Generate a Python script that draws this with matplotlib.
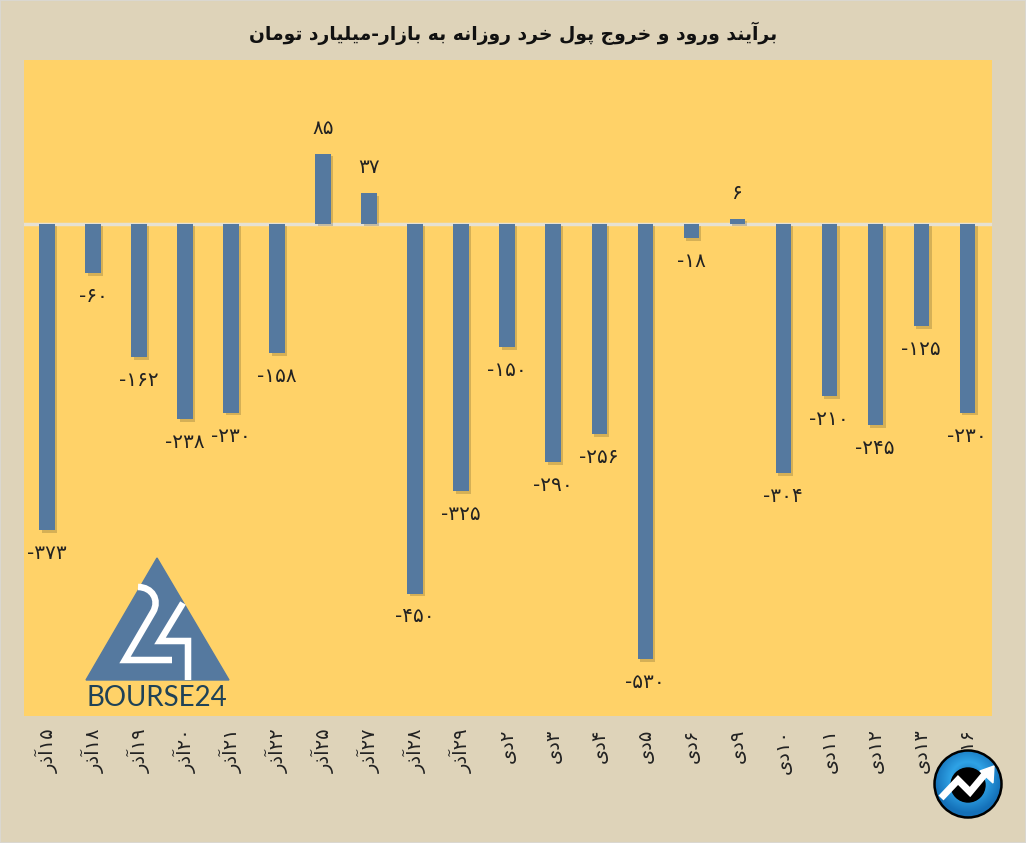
import matplotlib
matplotlib.use("Agg")
import matplotlib.pyplot as plt
import matplotlib.patheffects as pe
from matplotlib.patches import Polygon, Circle, Rectangle, PathPatch
from matplotlib.path import Path
import numpy as np

# datos de la grafica
valores = [-373, -60, -162, -238, -230, -158, 85, 37, -450, -325, -150,
           -290, -256, -530, -18, 6, -304, -210, -245, -125, -230]
fechas = ["۱۵آذر", "۱۸آذر", "۱۹آذر", "۲۰آذر", "۲۱آذر", "۲۲آذر", "۲۵آذر", "۲۷آذر",
          "۲۸آذر", "۲۹آذر", "۲دی", "۳دی", "۴دی", "۵دی", "۶دی", "۹دی",
          "۱۰دی", "۱۱دی", "۱۲دی", "۱۳دی", "۱۶دی"]
titulo = "برآیند ورود و خروج پول خرد روزانه به بازار-میلیارد تومان"

W, H = 1026, 843
FONDO = "#DED3B9"
AMARILLO = "#FFD268"
AZUL = "#55799F"

# formas de cada letra: aislada, final, inicial, media
FORMAS = {
    "ا": (0xFE8D, 0xFE8E), "آ": (0xFE81, 0xFE82), "د": (0xFEA9, 0xFEAA),
    "ذ": (0xFEAB, 0xFEAC), "ر": (0xFEAD, 0xFEAE), "ز": (0xFEAF, 0xFEB0),
    "و": (0xFEED, 0xFEEE),
    "ب": (0xFE8F, 0xFE90, 0xFE91, 0xFE92), "پ": (0xFB56, 0xFB57, 0xFB58, 0xFB59),
    "ت": (0xFE95, 0xFE96, 0xFE97, 0xFE98), "ج": (0xFE9D, 0xFE9E, 0xFE9F, 0xFEA0),
    "خ": (0xFEA5, 0xFEA6, 0xFEA7, 0xFEA8), "ل": (0xFEDD, 0xFEDE, 0xFEDF, 0xFEE0),
    "م": (0xFEE1, 0xFEE2, 0xFEE3, 0xFEE4), "ن": (0xFEE5, 0xFEE6, 0xFEE7, 0xFEE8),
    "ه": (0xFEE9, 0xFEEA, 0xFEEB, 0xFEEC), "ی": (0xFBFC, 0xFBFD, 0xFBFE, 0xFBFF),
}
DIGITOS = "۰۱۲۳۴۵۶۷۸۹"


# matplotlib no une las letras, se hace a mano y se invierte el orden
def persa(texto):
    salida = []
    for i, c in enumerate(texto):
        if c not in FORMAS:
            salida.append(c)
            continue
        ant = texto[i - 1] if i > 0 else " "
        sig = texto[i + 1] if i + 1 < len(texto) else " "
        une_ant = ant in FORMAS and len(FORMAS[ant]) == 4
        une_sig = sig in FORMAS and len(FORMAS[c]) == 4
        f = FORMAS[c]
        if une_ant and une_sig:
            salida.append(chr(f[3]))
        elif une_sig:
            salida.append(chr(f[2]))
        elif une_ant:
            salida.append(chr(f[1]))
        else:
            salida.append(chr(f[0]))
    return salida


def visual(texto):
    # los numeros se quedan de izquierda a derecha
    num = "".join(c for c in texto if c in DIGITOS)
    resto = "".join(c for c in texto if c not in DIGITOS)
    return "".join(persa(resto)[::-1]) + num


def numero(v):
    s = str(abs(v)).translate(str.maketrans("0123456789", DIGITOS))
    return "-" + s if v < 0 else s


fig = plt.figure(figsize=(W / 100, H / 100), dpi=100, facecolor=FONDO)
ax = fig.add_axes([24 / W, 1 - 716 / H, 968 / W, 656 / H], facecolor=AMARILLO)

x = np.arange(len(valores))
barras = ax.bar(x, valores, width=0.33, color=AZUL, zorder=3)
for b in barras:
    b.set_path_effects([pe.SimplePatchShadow(offset=(2, -2), shadow_rgbFace="#6b5a2a", alpha=0.28), pe.Normal()])

ax.axhline(0, color="#E6E1D3", linewidth=2.5, zorder=2)
ax.set_xlim(-0.5, 20.54)
ax.set_ylim(-599, 199)

for xi, v in zip(x, valores):
    if v < 0:
        ax.annotate(numero(v), (xi, v), xytext=(0, -10), textcoords="offset points",
                    ha="center", va="top", fontsize=14.5, color="#222222")
    else:
        ax.annotate(numero(v), (xi, v), xytext=(0, 11.5), textcoords="offset points",
                    ha="center", va="bottom", fontsize=14.5, color="#222222")

ax.set_xticks(x)
ax.set_xticklabels([visual(f) for f in fechas], rotation=90, fontsize=14, color="#222222")
ax.tick_params(axis="x", length=0, pad=9)
ax.set_yticks([])
for lado in ax.spines.values():
    lado.set_visible(False)

fig.text(513 / W, 1 - 33 / H, visual(titulo), ha="center", va="center",
         fontsize=13.5, fontweight="bold", color="#111111")

# capa en pixeles para el logo y el icono
capa = fig.add_axes([0, 0, 1, 1], facecolor="none")
capa.set_xlim(0, W)
capa.set_ylim(H, 0)
capa.axis("off")
capa.add_patch(Rectangle((0, 0), W, H, fill=False, ec="#DAD7D0", lw=1.5))

capa.add_patch(Polygon([(157, 558), (86, 680), (229, 680)], color=AZUL))
dos = Path([(138, 587), (152, 587), (160, 600), (153, 612), (125, 660), (172, 660)],
           [Path.MOVETO, Path.CURVE4, Path.CURVE4, Path.CURVE4, Path.LINETO, Path.LINETO])
capa.add_patch(PathPatch(dos, fill=False, ec="white", lw=4.7, joinstyle="miter", capstyle="butt"))
capa.plot([183, 160, 188, 188], [603, 641, 641, 680],
          color="white", lw=4.7, solid_joinstyle="miter", solid_capstyle="butt")
capa.text(157, 698, "BOURSE24", ha="center", va="center", fontsize=20,
          color="#1F4257", family="Lato")

# icono de la esquina
yy, xx = np.mgrid[-1:1:200j, -1:1:200j]
grad = np.clip(np.hypot(xx, yy + 0.15), 0, 1)
cmap = matplotlib.colors.LinearSegmentedColormap.from_list("az", ["#0F67AC", "#2FA3E6", "#1470B8"])
img = capa.imshow(grad, extent=(934, 1002, 818, 750), cmap=cmap, zorder=5, aspect="auto")
capa.set_xlim(0, W)
capa.set_ylim(H, 0)
img.set_clip_path(Circle((968, 784), 34, transform=capa.transData))
capa.add_patch(Circle((968, 784), 33.5, fill=False, ec="black", lw=1.8, zorder=6))
capa.add_patch(Circle((968, 785), 17, color="black", zorder=6))
capa.plot([941, 958, 970, 985], [798, 780, 792, 774], color="white", lw=5, zorder=7,
          solid_joinstyle="miter", solid_capstyle="butt")
capa.add_patch(Polygon([(994, 766), (980, 771), (993, 783)], color="white", zorder=7))

fig.savefig("out.png", dpi=100, facecolor=FONDO)
